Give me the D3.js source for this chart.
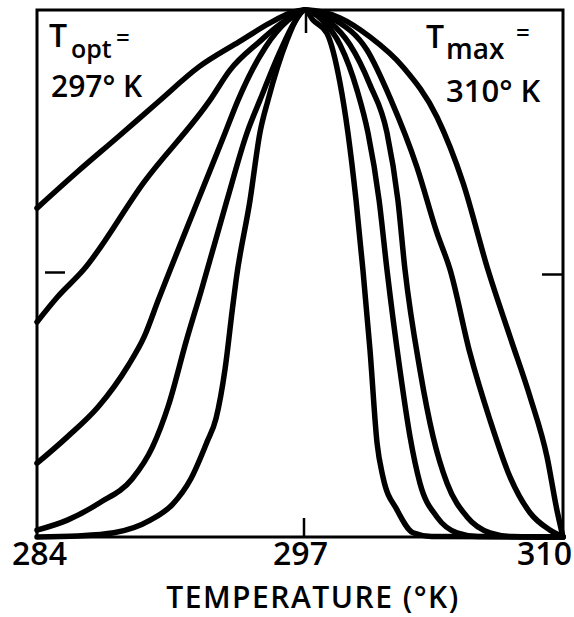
<!DOCTYPE html>
<html>
<head>
<meta charset="utf-8">
<script src="https://cdn.jsdelivr.net/npm/d3@7"></script>
<style>
  html, body { margin: 0; padding: 0; background: #fff; }
  svg text { font-family: "Open Sans", "DejaVu Sans", sans-serif; fill: #000; }
</style>
</head>
<body>
<svg id="chart" width="574" height="617"></svg>
<script>
// ---- data (temperature in °K, relative rate 0..1) ----
const xTickValues = [284, 297, 310];
const xTickLabels = ["284", "297", "310"];
const yTickValues = [0.5];
const xTitle = "TEMPERATURE (°K)";
const toptLabel = ["T", "opt", "=", "297° K"];
const tmaxLabel = ["T", "max", "=", "310° K"];

const curveA = [[284,0.624],[286,0.693],[288,0.759],[290,0.826],[292,0.892],[294,0.94],[295.5,0.975],[296.5,0.994],[297.25,1.0],
  [298.98,0.985],[300.46,0.949],[302.09,0.892],[303.77,0.797],[305.06,0.672],[306.29,0.507],[307.38,0.38],[308.37,0.266],[309.21,0.152],[309.7,0.051],[310,0]];
const curveB = [[284,0.408],[285,0.455],[286.3,0.507],[289.3,0.674],[292.55,0.829],[293.54,0.886],[295,0.94],[296.2,0.978],[297.25,1.0],
  [298.73,0.981],[300.31,0.924],[301.5,0.829],[302.78,0.702],[303.77,0.577],[304.42,0.507],[305.4,0.349],[306.39,0.222],[307.38,0.114],[308.37,0.046],[309.36,0.013],[310,0]];
const curveC = [[284,0.14],[285.5,0.19],[287.05,0.248],[288.5,0.325],[289.3,0.38],[290.0,0.45],[291.96,0.639],[293.3,0.767],[293.94,0.829],[295.3,0.93],[296.4,0.98],[297.25,1.0],
  [298.48,0.977],[299.47,0.934],[300.46,0.858],[301.3,0.767],[301.84,0.639],[302.19,0.507],[302.93,0.317],[303.58,0.19],[304.27,0.102],[305.26,0.038],[306.39,0.008],[307.5,0.001],[310,0]];
const curveD = [[284,0.013],[285.5,0.032],[287.1,0.065],[288.7,0.11],[289.7,0.17],[290.5,0.25],[291.4,0.375],[292.1,0.465],[293.39,0.639],[294.38,0.767],[295.02,0.829],[296.0,0.92],[296.7,0.975],[297.25,1.0],
  [298.09,0.981],[298.98,0.934],[299.82,0.848],[300.36,0.767],[300.91,0.639],[301.3,0.507],[301.94,0.317],[302.44,0.19],[302.93,0.102],[303.77,0.038],[304.76,0.008],[305.8,0.001],[310,0]];
const curveE = [[284,0],[286,0.002],[287.8,0.008],[289.6,0.032],[290.7,0.062],[291.6,0.11],[292.4,0.18],[292.85,0.225],[293.3,0.32],[293.65,0.43],[293.85,0.49],[294.53,0.639],[295.02,0.767],[295.42,0.829],[296.36,0.943],[296.85,0.985],[297.25,1.0],
  [297.64,0.981],[298.33,0.956],[298.98,0.861],[299.37,0.767],[299.77,0.639],[300.11,0.507],[300.46,0.355],[300.81,0.178],[301.1,0.114],[301.8,0.051],[302.59,0.008],[303.5,0.001],[310,0]];
const curves = [curveA, curveB, curveC, curveD, curveE];

// ---- layout ----
const pLeft = 37, pRight = 563, pTop = 10, pBottom = 537;
const svg = d3.select("#chart");

const x = d3.scaleLinear().domain([284, 310]).range([pLeft, pRight]);
const y = d3.scaleLinear().domain([0, 1]).range([pBottom, pTop]);

// curves
const line = d3.line().x(d => x(d[0])).y(d => y(d[1])).curve(d3.curveMonotoneX);
svg.append("g").selectAll("path").data(curves).join("path")
  .attr("d", line)
  .attr("fill", "none")
  .attr("stroke", "#000")
  .attr("stroke-width", 5.5)
  .attr("stroke-linejoin", "round")
  .attr("stroke-linecap", "round");

// frame
svg.append("rect")
  .attr("x", pLeft).attr("y", pTop)
  .attr("width", pRight - pLeft).attr("height", pBottom - pTop)
  .attr("fill", "none").attr("stroke", "#000").attr("stroke-width", 3);

// bottom axis (labels)
const xAxis = d3.axisBottom(x).tickValues(xTickValues)
  .tickFormat((d, i) => xTickLabels[i]).tickSizeInner(0).tickSizeOuter(0).tickPadding(5);
const gx = svg.append("g").attr("transform", `translate(0,${pBottom})`).call(xAxis);
gx.select(".domain").remove();
gx.selectAll("text")
  .attr("font-size", 32).attr("font-family", "Open Sans").attr("font-weight", 600)
  .attr("fill", "#000")
  .attr("dy", "0.72em")
  .attr("dx", d => d === 284 ? 2 : (d === 310 ? -19 : 0));

// inner ticks at 297 (bottom and top)
svg.append("line").attr("x1", x(297) + 4).attr("x2", x(297) + 4)
  .attr("y1", pBottom).attr("y2", pBottom - 19).attr("stroke", "#000").attr("stroke-width", 2.5);
svg.append("line").attr("x1", x(297) + 6).attr("x2", x(297) + 6)
  .attr("y1", pTop).attr("y2", pTop + 23).attr("stroke", "#000").attr("stroke-width", 2.5);

// y ticks at 0.5 (left & right)
yTickValues.forEach(v => {
  svg.append("line").attr("x1", pLeft + 8).attr("x2", pLeft + 28)
    .attr("y1", y(v) - 1).attr("y2", y(v) - 1).attr("stroke", "#000").attr("stroke-width", 2.5);
  svg.append("line").attr("x1", pRight - 21).attr("x2", pRight)
    .attr("y1", y(v) + 1).attr("y2", y(v) + 1).attr("stroke", "#000").attr("stroke-width", 2.5);
});

// x title
svg.append("text").attr("x", 313).attr("y", 608).attr("text-anchor", "middle")
  .attr("font-size", 30).attr("font-weight", 600).attr("letter-spacing", 1.5).text(xTitle);

// annotations
function label(g, parts, xs, ys, sizes) {
  parts.forEach((t, i) => {
    g.append("text").attr("x", xs[i]).attr("y", ys[i])
      .attr("font-size", sizes[i]).attr("font-weight", 600).text(t);
  });
}
label(svg, toptLabel, [49, 71, 116, 51], [47, 58, 46, 97], [32, 25, 24, 30]);
label(svg, tmaxLabel, [426, 446, 516, 446], [48, 59, 41, 102], [32, 28, 24, 31]);
</script>
</body>
</html>
